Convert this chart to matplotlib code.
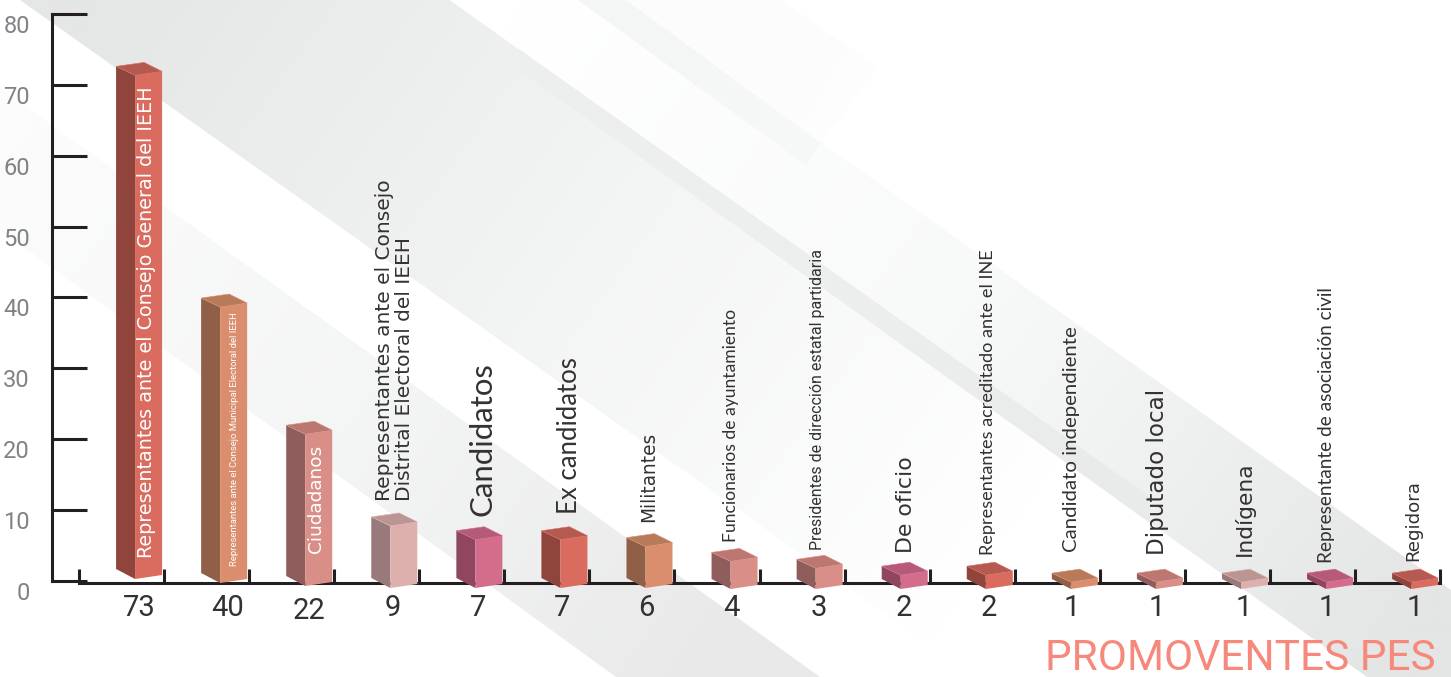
import numpy as np
from matplotlib import pyplot as plt
from matplotlib.colors import LinearSegmentedColormap
from matplotlib.patches import Polygon
from matplotlib.transforms import ScaledTranslation

categories = [
    'Representantes ante el Consejo General del IEEH',
    'Representantes ante el Consejo Municipal Electoral del IEEH',
    'Ciudadanos',
    'Representantes ante el Consejo\nDistrital Electoral del IEEH',
    'Candidatos',
    'Ex candidatos',
    'Militantes',
    'Funcionarios de ayuntamiento',
    'Presidentes de dirección estatal partidaria',
    'De oficio',
    'Representantes acreditado ante el INE',
    'Candidato independiente',
    'Diputado local',
    'Indígena',
    'Representante de asociación civil',
    'Regidora',
]
values = [73, 40, 22, 9, 7, 7, 6, 4, 3, 2, 2, 1, 1, 1, 1, 1]
y_ticks = [0, 10, 20, 30, 40, 50, 60, 70, 80]
title = 'PROMOVENTES PES'

W, H = 1451, 677
PX_X = 85.07   # pixels per category
PX_Y = 7.09    # pixels per unit
X0, Y0 = 79, 581
SQUASH = 0.973  # the drawn boxes are a bit shorter than the axis says

# side, front, top
red = ('#8f453b', '#d96b5f', '#b55a50')
orange = ('#8f6047', '#da8e6d', '#b97a59')
mauve = ('#8f5e5c', '#d98f88', '#bd7771')
blush = ('#99797b', '#ddb0ad', '#bb9594')
rose = ('#8f465e', '#d46c8b', '#b55a78')
bar_colors = [red, orange, mauve, blush, rose, red, orange, mauve,
              mauve, rose, red, orange, mauve, blush, rose, red]
base_px = [579, 583, 586, 588, 588, 588, 588, 589,
           589, 589, 589, 589, 589, 589, 589, 589]

# label: centre x from the tick, bottom y, length in px, font, colour
WIDE = ['DejaVu Sans']
PLAIN = ['Lato']
THIN = ['Roboto']
label_dx = [-18, -15, -18, -25, -22, -20, -26, -29, -27, -24, -27, -28, -27, -26, -29, -27]
label_bottom = [558, 566, 553, 501, 516, 514, 522, 542, 550, 553, 555, 552, 555, 556, 563, 561]
label_len = [470, 253, 108, 320, 153, 156, 90, 233, 300, 96, 306, 224, 165, 94, 277, 81]
label_font = [WIDE, THIN, WIDE, WIDE, PLAIN, PLAIN, WIDE, PLAIN,
              THIN, WIDE, PLAIN, PLAIN, WIDE, WIDE, PLAIN, WIDE]
label_color = ['white', 'white', 'white'] + ['#333132'] * 13
count_dx = [-25, -22, -25, -27, -26, -27, -28, -28, -26, -26, -26, -28, -28, -26, -28, -25]
count_y = [608, 608, 611, 608, 608, 608, 608, 608, 608, 608, 608, 608, 608, 608, 608, 608]


def gradient_band(ax, corners, start, end, colors):
    # diagonal band, colour runs from start to end
    xx, yy = np.meshgrid(np.arange(0, W, 2), np.arange(0, H, 2))
    d = np.array(end, dtype=float) - np.array(start, dtype=float)
    t = ((xx - start[0]) * d[0] + (yy - start[1]) * d[1]) / (d @ d)
    cmap = LinearSegmentedColormap.from_list('band', colors)
    im = ax.imshow(np.clip(t, 0, 1), cmap=cmap, vmin=0, vmax=1, extent=(0, W, H, 0),
                   aspect='auto', interpolation='bilinear')
    im.set_clip_path(Polygon(corners, closed=True, transform=ax.transData))


fig = plt.figure(figsize=(W / 100, H / 100), dpi=100)

# background bands, in picture pixels
bg = fig.add_axes([0, 0, 1, 1])
bg.set_xlim(0, W)
bg.set_ylim(H, 0)
bg.axis('off')
gradient_band(bg, [(0, 88), (820, 677), (616, 677), (0, 230)],
              (0, 160), (720, 660), ['#fcfcfc', '#f4f5f5', '#e9e9e9'])
gradient_band(bg, [(20, 0), (450, 0), (1071, 441), (927, 643)],
              (100, 0), (960, 620), ['#e5e6e6', '#f3f4f4', '#ffffff'])
gradient_band(bg, [(450, 0), (621, 0), (1451, 590), (1451, 677), (1367, 677), (1118, 500), (1092, 461)],
              (520, 0), (1400, 640), ['#ffffff', '#f8f9f9', '#e4e5e5'])
gradient_band(bg, [(519, 49), (519, 70), (1150, 523), (1150, 497)],
              (519, 50), (1150, 510), ['#edeeee', '#edeeee', '#e9eaea'])
gradient_band(bg, [(578, 0), (626, 0), (821, 143), (806, 165)],
              (578, 0), (820, 160), ['#f4f5f5', '#f5f6f6', '#f7f8f8'])
gradient_band(bg, [(626, 0), (781, 0), (877, 67), (821, 143)],
              (626, 0), (877, 143), ['#fdfdfd', '#fcfcfc', '#fefefe'])
bg.set_xlim(0, W)
bg.set_ylim(H, 0)

# chart axes fill the figure, limits chosen so the ticks land where they should
ax = fig.add_axes([0, 0, 1, 1])
ax.patch.set_alpha(0)
ax.set_xlim(-X0 / PX_X, (W - X0) / PX_X)
ax.set_ylim((Y0 - H) / PX_Y, Y0 / PX_Y)

for s in ['top', 'right']:
    ax.spines[s].set_visible(False)
ax.spines['left'].set_position(('data', (52 - X0) / PX_X))
ax.spines['left'].set_bounds(0, 80)
ax.spines['bottom'].set_position(('data', (Y0 - 583) / PX_Y))
ax.spines['bottom'].set_bounds(0, 16)
for s in ['left', 'bottom']:
    ax.spines[s].set_linewidth(2.2)
    ax.spines[s].set_color('#231f20')

ax.set_xticks(range(17))
ax.set_xticklabels([])
ax.tick_params(axis='x', direction='in', length=10, width=2.2, color='#231f20')
ax.set_yticks(y_ticks)
ax.set_yticklabels([str(v) for v in y_ticks], family=THIN, fontsize=17, color='#808285')
ax.tick_params(axis='y', direction='in', length=25, width=2.2, color='#231f20', pad=16)
for lab in ax.get_yticklabels():
    lab.set_transform(lab.get_transform() + ScaledTranslation(0, -10 / 100, fig.dpi_scale_trans))

renderer = fig.canvas.get_renderer()


def px(i, dx, ypx):
    return (i + 1 + dx / PX_X, (Y0 - ypx) / PX_Y)


for i, v in enumerate(values):
    side, front, top = bar_colors[i]
    yb = base_px[i]
    # value sets the box height
    h = v * SQUASH * PX_Y
    yt = yb - h
    ax.add_patch(Polygon([px(i, -48, yb - 10), px(i, -29, yb), px(i, -29, yt), px(i, -48, yt - 9)],
                         closed=True, fc=side, ec='none', zorder=3))
    ax.add_patch(Polygon([px(i, -29, yb), px(i, -2, yb - 4), px(i, -2, yt - 4), px(i, -29, yt)],
                         closed=True, fc=front, ec='none', zorder=3))
    ax.add_patch(Polygon([px(i, -48, yt - 9), px(i, -20, yt - 13), px(i, -2, yt - 4), px(i, -29, yt)],
                         closed=True, fc=top, ec=front, lw=0.4, zorder=3))

    # rotated category label, font size fitted to the length in the picture
    lx, ly = px(i, label_dx[i], label_bottom[i])
    t = ax.text(lx, ly, categories[i], rotation=90, ha='center', va='bottom', multialignment='left',
                family=label_font[i], fontsize=12, color=label_color[i], zorder=4, linespacing=1.05)
    t.set_fontsize(12 * label_len[i] / t.get_window_extent(renderer).height)

    cx, cy = px(i, count_dx[i], count_y[i])
    ax.text(cx, cy, str(v), ha='center', va='center', family=THIN, fontsize=21,
            color='#333132', zorder=4)

tx, ty = px(15, -4, 659)
ax.text(tx, ty, title, ha='right', va='center', family=THIN, fontsize=30.5,
        color='#f6897c', zorder=4)

fig.savefig('out.png', dpi=100)
